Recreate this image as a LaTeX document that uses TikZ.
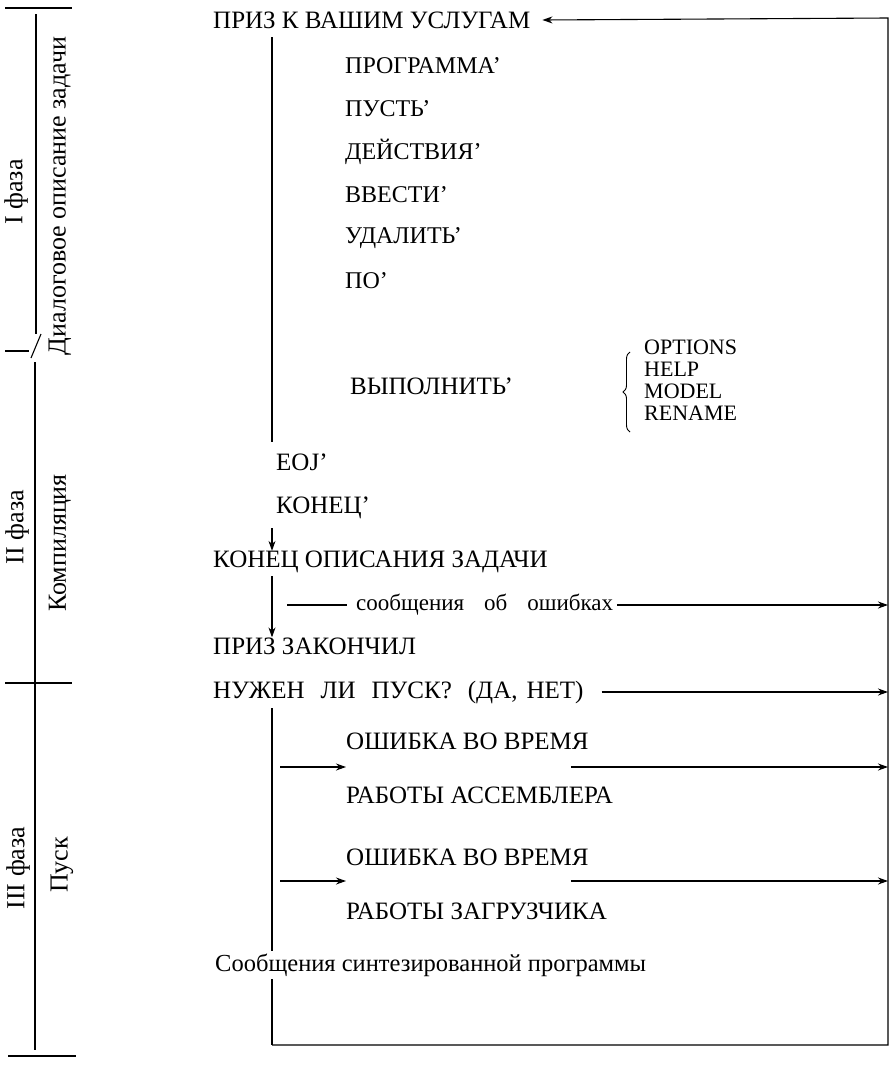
\documentclass[tikz,border=0pt]{standalone}
\usepackage{fontspec}
\setmainfont{Liberation Serif}
\usetikzlibrary{arrows.meta,calc,decorations.pathreplacing}
\begin{document}
\begin{tikzpicture}[x=1pt,y=-1pt,
  lbl/.style={anchor=west, inner sep=0pt, font=\fontsize{25}{25}\selectfont},
  item/.style={anchor=west, inner sep=0pt, font=\fontsize{24}{24}\selectfont},
  opt/.style={anchor=west, inner sep=0pt, font=\fontsize{22}{22}\selectfont},
  note/.style={anchor=west, inner sep=0pt, font=\fontsize{23}{23}\selectfont},
  phase/.style={rotate=90, inner sep=0pt, font=\fontsize{26}{26}\selectfont},
  rule/.style={line width=1.1pt},
  flow/.style={line width=1.1pt, -{Stealth[length=10pt,width=7pt]}},
]
\useasboundingbox (0,0) rectangle (894,1071);

% ---- phase scale on the left ----
\draw[rule] (5,8) -- (72,8);
\draw[rule] (36,14) -- (36,334);
\draw[rule] (5,351) -- (29,351);
\draw[rule] (31,358) -- (41,334);
\draw[rule] (35,362) -- (35,1050);
\draw[rule] (5,683) -- (72,683);
\draw[rule] (8,1056) -- (76,1056);
\node[phase] (ph1) at (16,192) {I фаза};
\node[phase] (ph1d) at (60,196) {Диалоговое описание задачи};
\node[phase] (ph2) at (17,527) {II фаза};
\node[phase] (ph2d) at (60,543) {Компиляция};
\node[phase] (ph3) at (18,868) {III фаза};
\node[phase] (ph3d) at (62,865) {Пуск};

% ---- dialogue phase ----
\node[lbl]  (serv) at (213,20) {ПРИЗ К ВАШИМ УСЛУГАМ};
\node[item] (prog) at (345,66) {ПРОГРАММА’};
\node[item] (let)  at (345,109) {ПУСТЬ’};
\node[item] (act)  at (345,152) {ДЕЙСТВИЯ’};
\node[item] (inp)  at (345,195) {ВВЕСТИ’};
\node[item] (del)  at (345,238) {УДАЛИТЬ’};
\node[item] (by)   at (345,281) {ПО’};
\node[lbl]  (exec) at (350,386) {ВЫПОЛНИТЬ’};
\node[opt] (o1) at (644,347) {OPTIONS};
\node[opt] (o2) at (644,369) {HELP};
\node[opt] (o3) at (644,391) {MODEL};
\node[opt] (o4) at (644,413) {RENAME};
\draw[line width=0.9pt, decorate, decoration={brace, amplitude=7pt}]
  (630,432) -- (630,352);

\coordinate (v1t) at (272,37);
\coordinate (v1b) at (272,442);
\draw[rule] (v1t) -- (v1b);

\node[lbl] (eoj) at (276,462) {EOJ’};
\node[lbl] (kon) at (276,508) {КОНЕЦ’};

% ---- compilation phase ----
\node[lbl] (endd) at (213,562) {КОНЕЦ ОПИСАНИЯ ЗАДАЧИ};
\node[lbl] (done) at (213,646) {ПРИЗ ЗАКОНЧИЛ};
\node[lbl] (run)  at (213,692)
  {НУЖЕН\hspace{16pt}ЛИ\hspace{16pt}ПУСК?\hspace{16pt}(ДА,\hspace{9pt}НЕТ)};

\coordinate (a1) at (272,528);
\draw[flow] (a1) -- (a1 |- endd.north);
\coordinate (a2) at (272,576);
\draw[flow] (a2) -- (a2 |- done.north);

\node[note] (err) at (356,605)
  {сообщения\hspace{20pt}об\hspace{20pt}ошибках};
\coordinate (tr) at (888,18);
\coordinate (br) at (888,1045);
\coordinate (bl) at (272,1045);
\coordinate (el) at (287,605);
\draw[rule] (el) -- ([xshift=-9pt]err.west);
\draw[flow] ([xshift=4pt]err.east) -- (err.east -| tr);
\draw[flow] ([xshift=18pt]run.east) -- (run.east -| tr);

% ---- run phase ----
\node[lbl] (e1a) at (346,741) {ОШИБКА ВО ВРЕМЯ};
\node[lbl] (e1b) at (346,795) {РАБОТЫ АССЕМБЛЕРА};
\node[lbl] (e2a) at (346,857) {ОШИБКА ВО ВРЕМЯ};
\node[lbl] (e2b) at (346,911) {РАБОТЫ ЗАГРУЗЧИКА};

\coordinate (v3t) at (272,708);
\draw[rule] (v3t) -- (bl);

\coordinate (m1) at (272,767);
\coordinate (m2) at (272,881);
\draw[flow] ([xshift=8pt]m1) -- (m1 -| e1a.west);
\draw[flow] ($(m1 -| e1a.east)+(-18,0)$) -- (m1 -| tr);
\draw[flow] ([xshift=8pt]m2) -- (m2 -| e2a.west);
\draw[flow] ($(m2 -| e2a.east)+(-18,0)$) -- (m2 -| tr);

\node[note, font=\fontsize{24.5}{24.5}\selectfont, fill=white, inner ysep=3pt]
  (synth) at (215,965) {Сообщения синтезированной программы};

% ---- return loop back to the start ----
\draw[flow] (bl) -- (br) -- (tr) -- ([xshift=12pt]serv.east);
\end{tikzpicture}
\end{document}
